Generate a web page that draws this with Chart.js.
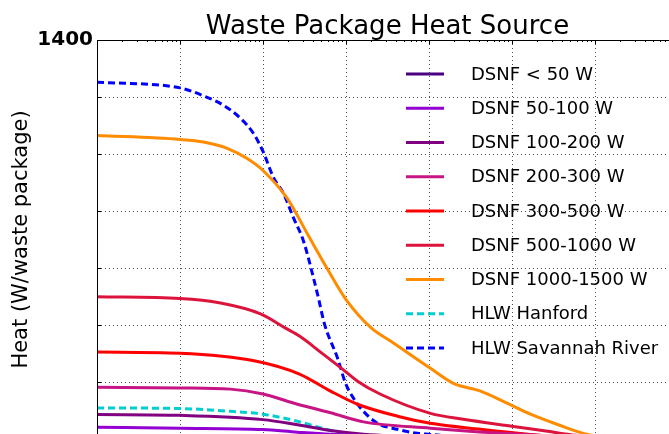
<!DOCTYPE html>
<html>
<head>
<meta charset="utf-8">
<script src="https://cdn.jsdelivr.net/npm/chart.js@4.4.0/dist/chart.umd.min.js"></script>
<style>
  html, body { margin: 0; padding: 0; overflow: hidden; background: #fff; width: 669px; height: 434px; }
  #wrap { position: absolute; left: 0; top: 0; width: 690px; height: 455px; }
</style>
</head>
<body>
<div id="wrap"><canvas id="c" width="690" height="455"></canvas></div>
<script>
// ---- Data (time in years, heat in W per waste package) ----
const seriesNames = [
  'DSNF < 50 W', 'DSNF 50-100 W', 'DSNF 100-200 W', 'DSNF 200-300 W',
  'DSNF 300-500 W', 'DSNF 500-1000 W', 'DSNF 1000-1500 W',
  'HLW Hanford', 'HLW Savannah River'
];
const dsnfLt50 = [[1, 9], [10, 8.5], [100, 7], [650, 4], [10000, 2], [100000, 1]];
const dsnf50_100 = [[1, 41], [10, 38], [100, 33], [261, 24], [651, 17], [10420, 9], [100000, 3]];
const dsnf100_200 = [[1, 86], [10, 83], [100, 68], [261, 50], [651, 30], [1625, 17], [10420, 6], [100000, 2]];
const dsnf200_300 = [[1, 182], [10, 179], [40.6, 175], [100, 158], [261, 122], [651, 92], [1625, 60], [10420, 38], [66800, 21], [384000, 9], [1000000, 4]];
const dsnf300_500 = [[1, 305], [10, 301], [83.5, 273], [275, 228], [651, 168], [1377, 122], [4172, 80], [10420, 55], [41700, 34], [167000, 16], [500000, 6], [2000000, 2]];
const dsnf500_1000 = [[1, 499], [10, 493], [30.8, 477], [93.3, 439], [187, 389], [275, 361], [493, 305], [883, 248], [1377, 203], [2607, 157], [10420, 90], [26000, 69], [104000, 44], [268000, 27], [582000, 13], [2000000, 3]];
const dsnf1000_1500 = [[1, 1065], [10, 1051], [19.2, 1042], [37, 1020], [64.5, 984], [100, 942], [196, 844], [341, 721], [593, 598], [986, 492], [2028, 389], [3436, 344], [10420, 248], [19720, 195], [41700, 168], [88300, 125], [167000, 87], [353000, 51], [813000, 16], [2000000, 3]];
const hlwHanford = [[1, 109], [10, 107], [40.6, 97], [100, 87], [261, 62], [651, 30], [1030, 16], [3000, 4], [20000, 1]];
const hlwSavannah = [[1, 1252], [10, 1232], [19.2, 1204], [33.4, 1171], [53.6, 1125], [76.9, 1072], [100, 1009], [134, 917], [177, 861], [233, 776], [307, 695], [406, 565], [466, 494], [551, 403], [790, 284], [986, 196], [1231, 143], [1625, 97], [2398, 55], [4172, 34], [7261, 20], [10420, 16], [30000, 4], [100000, 1]];
const yTickValues = [0, 200, 400, 600, 800, 1000, 1200, 1400];
const yTickLabels = ['1400'];
const xDecades = [1, 10, 100, 1000, 10000, 100000, 1000000, 10000000];

const seriesData = [dsnfLt50, dsnf50_100, dsnf100_200, dsnf200_300, dsnf300_500, dsnf500_1000, dsnf1000_1500, hlwHanford, hlwSavannah];
const colors = ['#4B0082', '#9400D3', '#800080', '#C71585', '#FF0000', '#DC143C', '#FF8C00', '#00CED1', '#0000FF'];
const dashed = [false, false, false, false, false, false, false, true, true];

const datasets = seriesNames.map((name, i) => ({
  label: name,
  data: seriesData[i].map(p => ({ x: p[0], y: p[1] })),
  borderColor: colors[i],
  backgroundColor: colors[i],
  borderWidth: 3,
  borderDash: dashed[i] ? [7, 4] : [],
  pointRadius: 0,
  tension: 0.4,
  cubicInterpolationMode: 'monotone',
  fill: false
}));

const legendPlugin = {
  id: 'customLegend',
  afterDraw(chart) {
    const ctx = chart.ctx;
    ctx.save();
    ctx.font = '18px "DejaVu Sans"';
    ctx.textBaseline = 'middle';
    ctx.textAlign = 'left';
    chart.data.datasets.forEach((ds, i) => {
      const y = 74 + i * 34.25;
      ctx.strokeStyle = ds.borderColor;
      ctx.lineWidth = 3;
      ctx.setLineDash(ds.borderDash || []);
      ctx.beginPath();
      ctx.moveTo(406, y);
      ctx.lineTo(444, y);
      ctx.stroke();
      ctx.setLineDash([]);
      ctx.fillStyle = '#000';
      ctx.fillText(ds.label, 471, y + 1);
    });
    ctx.restore();
  }
};

const framePlugin = {
  id: 'frame',
  afterDatasetsDraw(chart) {
    const ctx = chart.ctx;
    const a = chart.chartArea;
    const xs = chart.scales.x, ys = chart.scales.y;
    ctx.save();
    ctx.strokeStyle = '#000';
    ctx.lineWidth = 1;
    ctx.setLineDash([]);
    ctx.beginPath();
    ctx.moveTo(a.left, a.top + 0.5);
    ctx.lineTo(a.right, a.top + 0.5);
    ctx.stroke();
    ctx.beginPath();
    ctx.moveTo(a.left + 0.5, a.top);
    ctx.lineTo(a.left + 0.5, a.bottom);
    ctx.stroke();
    for (let e = 0; e < 7; e++) {
      for (let m = 1; m < 10; m++) {
        const v = m * Math.pow(10, e);
        const px = Math.round(xs.getPixelForValue(v)) + 0.5;
        const len = m === 1 ? 4 : 2;
        ctx.beginPath();
        ctx.moveTo(px, a.top);
        ctx.lineTo(px, a.top + len);
        ctx.stroke();
      }
    }
    ys.ticks.forEach(t => {
      const py = Math.round(ys.getPixelForValue(t.value)) + 0.5;
      ctx.beginPath();
      ctx.moveTo(a.left, py);
      ctx.lineTo(a.left + 4, py);
      ctx.stroke();
    });
    ctx.restore();
  }
};

new Chart(document.getElementById('c'), {
  type: 'line',
  data: { datasets },
  options: {
    responsive: false,
    animation: false,
    layout: { padding: { left: 0, right: 12, top: 0, bottom: 0 } },
    plugins: {
      legend: { display: false },
      tooltip: { enabled: false },
      title: {
        display: true,
        fullSize: false,
        text: 'Waste Package Heat Source',
        color: '#000',
        font: { family: '"DejaVu Sans"', size: 26, weight: 'normal', lineHeight: 1.0 },
        padding: { top: 14, bottom: 0 }
      }
    },
    scales: {
      x: {
        type: 'logarithmic',
        min: 1,
        max: 1e7,
        afterBuildTicks: (scale) => {
          scale.ticks = xDecades.map(v => ({ value: v }));
        },
        ticks: { display: false },
        grid: { color: 'rgba(0,0,0,0.7)', lineWidth: 1, drawTicks: false },
        border: { display: false, dash: [1, 3] }
      },
      y: {
        min: 0,
        max: 1400,
        afterBuildTicks: (scale) => {
          scale.ticks = yTickValues.map(v => ({ value: v }));
        },
        afterFit: (scale) => { scale.width = 97; },
        ticks: {
          padding: 4,
          color: '#000',
          font: { family: '"DejaVu Sans"', size: 20, weight: 'bold' },
          callback: (v) => yTickLabels.includes(String(v)) ? String(v) : ''
        },
        grid: { color: 'rgba(0,0,0,0.7)', lineWidth: 1, drawTicks: false },
        border: { display: false, dash: [1, 3] },
        title: {
          display: true,
          text: 'Heat (W/waste package)',
          color: '#000',
          font: { family: '"DejaVu Sans"', size: 21, weight: 'normal' },
          padding: { top: 9, bottom: 0 }
        }
      }
    }
  },
  plugins: [legendPlugin, framePlugin]
});
</script>
</body>
</html>
